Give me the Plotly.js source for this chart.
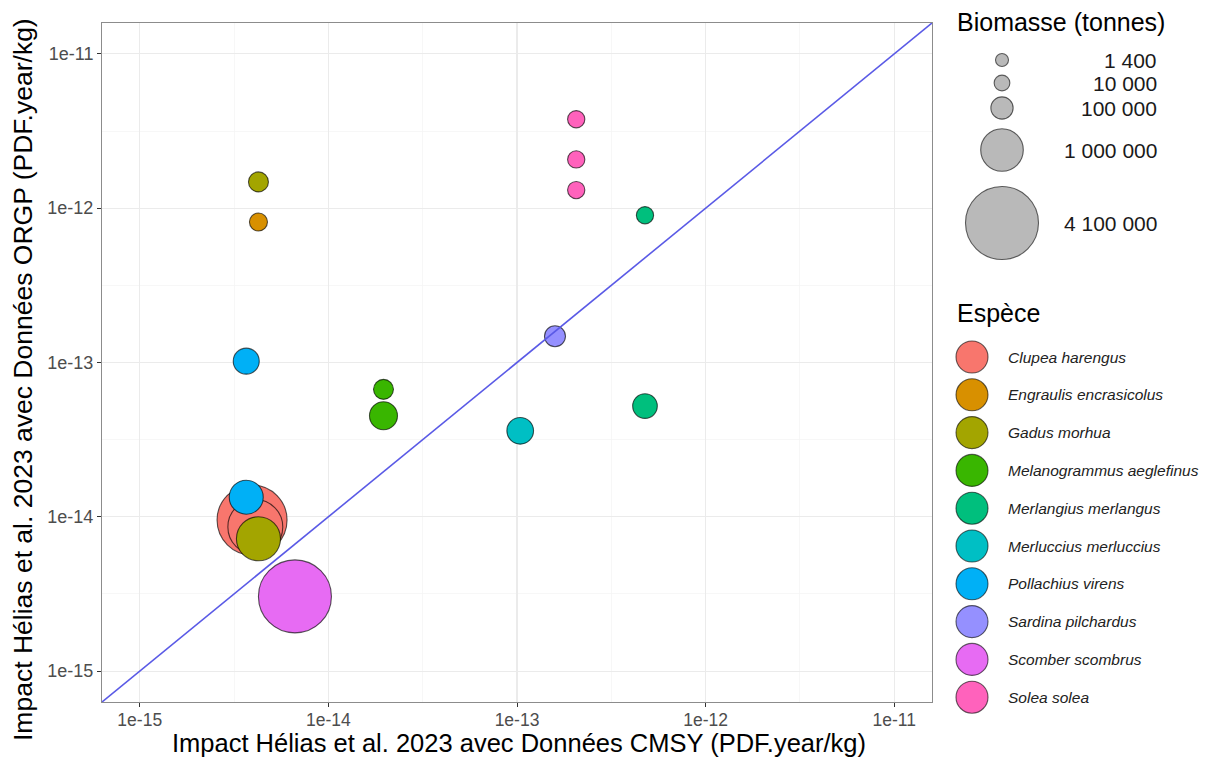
<!DOCTYPE html>
<html>
<head>
<meta charset="utf-8">
<script src="https://cdn.plot.ly/plotly-3.0.1.min.js"></script>
<style>html,body{margin:0;padding:0;background:#fff;}</style>
</head>
<body>
<div id="chart" style="width:1205px;height:758px;"></div>
<script>
// ---------------- data ----------------
const speciesNames = ['Clupea harengus','Engraulis encrasicolus','Gadus morhua','Melanogrammus aeglefinus','Merlangius merlangus','Merluccius merluccius','Pollachius virens','Sardina pilchardus','Scomber scombrus','Solea solea'];
const speciesColors = ['#F8766D','#D89000','#A3A500','#39B600','#00BF7D','#00BFC4','#00B0F6','#9590FF','#E76BF3','#FF62BC'];

const pointSpecies = ['Clupea harengus','Clupea harengus','Engraulis encrasicolus','Gadus morhua','Gadus morhua','Melanogrammus aeglefinus','Melanogrammus aeglefinus','Merlangius merlangus','Merlangius merlangus','Merluccius merluccius','Pollachius virens','Pollachius virens','Sardina pilchardus','Scomber scombrus','Solea solea','Solea solea','Solea solea'];
const impactCMSY = [3.94e-15,4.1e-15,4.26e-15,4.26e-15,4.26e-15,1.96e-14,1.96e-14,4.77e-13,4.77e-13,1.04e-13,3.67e-15,3.67e-15,1.59e-13,6.65e-15,2.06e-13,2.06e-13,2.06e-13];
const impactORGP = [9.53e-15,8.6e-15,8.13e-13,1.48e-12,7.21e-15,6.7e-14,4.52e-14,9.0e-13,5.22e-14,3.61e-14,1.02e-13,1.34e-14,1.48e-13,3.05e-15,3.77e-12,2.07e-12,1.31e-12];
const biomass = [3700000,2000000,30000,57000,1100000,57000,258000,22000,156000,215000,194000,503000,74000,4100000,22000,22000,22000];

const sizeBreaks = [1400,10000,100000,1000000,4100000];
const sizeLabels = ['1 400','10 000','100 000','1 000 000','4 100 000'];

const identityLine = [1e-16,1e-10];
const tickVals = [1e-15,1e-14,1e-13,1e-12,1e-11];
const tickText = ['1e-15','1e-14','1e-13','1e-12','1e-11'];
const minorVals = [Math.pow(10,-14.5),Math.pow(10,-13.5),Math.pow(10,-12.5),Math.pow(10,-11.5)];

const xTitle = 'Impact Hélias et al. 2023 avec Données CMSY (PDF.year/kg)';
const yTitle = 'Impact Hélias et al. 2023 avec Données ORGP (PDF.year/kg)';

// ---------------- scales ----------------
const bMin = 1400, bMax = 4100000, dMin = 13, dMax = 73;
function diam(v){ return dMin + (dMax-dMin)*Math.sqrt(Math.max(0,(v-bMin))/(bMax-bMin)); }
function colorOf(s){ return speciesColors[speciesNames.indexOf(s)]; }

const FONT = 'Liberation Sans, Arial, sans-serif';

// ---------------- traces ----------------
const traces = [];
traces.push({
  type:'scatter', mode:'markers', x:impactCMSY, y:impactORGP,
  xaxis:'x', yaxis:'y', showlegend:false, hoverinfo:'x+y+text',
  text: pointSpecies,
  marker:{
    size: biomass.map(diam), sizemode:'diameter',
    color: pointSpecies.map(colorOf),
    opacity:1,
    line:{color:'rgba(0,0,0,0.65)', width:1.1}
  }
});
traces.push({
  type:'scatter', mode:'lines', x:identityLine, y:identityLine,
  xaxis:'x', yaxis:'y', showlegend:false, hoverinfo:'skip',
  line:{color:'#5a5ae6', width:1.6}
});

const W = 1205, H = 758, ML = 102, MR = 0, MT = 23, MB = 56;
const plotW = W-ML-MR, plotH = H-MT-MB;
function px2paperX(px){ return (px-ML)/plotW; }
function px2paperY(py){ return (H-MB-py)/plotH; }

// legend (drawn on an auxiliary pixel-like axis)
const sizeKeyY = [60,83,108,150,223];
const sizeKeyX = 1002;
traces.push({
  type:'scatter', mode:'markers', xaxis:'x2', yaxis:'y2', showlegend:false, hoverinfo:'skip', cliponaxis:false,
  x: sizeBreaks.map(()=>sizeKeyX), y: sizeKeyY,
  marker:{size:sizeBreaks.map(diam), sizemode:'diameter', color:'#B9B9B9', opacity:1, line:{color:'rgba(0,0,0,0.6)', width:1.1}}
});
const spY0 = 357, spStep = 37.8, spX = 972;
const spY = speciesNames.map((s,i)=>spY0+i*spStep);
traces.push({
  type:'scatter', mode:'markers', xaxis:'x2', yaxis:'y2', showlegend:false, hoverinfo:'skip', cliponaxis:false,
  x: speciesNames.map(()=>spX), y: spY,
  marker:{size:32, color:speciesColors, opacity:1, line:{color:'rgba(0,0,0,0.6)', width:1.1}}
});

const annotations = [];
annotations.push({xref:'x2', yref:'paper', x:955, y:px2paperY(22), text:'Biomasse (tonnes)', showarrow:false, xanchor:'left', yanchor:'middle', font:{family:FONT, size:25, color:'#000'}});
sizeLabels.forEach((t,i)=>annotations.push({xref:'x2', yref:'y2', x:1159, y:sizeKeyY[i], text:t, showarrow:false, xanchor:'right', yanchor:'middle', font:{family:FONT, size:21, color:'#1a1a1a'}}));
annotations.push({xref:'x2', yref:'y2', x:955, y:313, text:'Espèce', showarrow:false, xanchor:'left', yanchor:'middle', font:{family:FONT, size:25, color:'#000'}});
speciesNames.forEach((s,i)=>annotations.push({xref:'x2', yref:'y2', x:1006, y:spY[i], text:'<i>'+s+'</i>', showarrow:false, xanchor:'left', yanchor:'middle', font:{family:FONT, size:15.5, color:'#222'}}));
// axis titles
annotations.push({xref:'paper', yref:'paper', x:px2paperX(519), y:px2paperY(758), text:xTitle, showarrow:false, xanchor:'center', yanchor:'bottom', borderpad:0, font:{family:FONT, size:25.5, color:'#000'}});
annotations.push({xref:'paper', yref:'paper', x:px2paperX(23), y:px2paperY(380), text:yTitle, textangle:-90, showarrow:false, xanchor:'center', yanchor:'middle', font:{family:FONT, size:26.5, color:'#000'}});

const layout = {
  width:W, height:H,
  margin:{l:ML, r:MR, t:MT, b:MB},
  paper_bgcolor:'#fff', plot_bgcolor:'#fff',
  font:{family:FONT},
  xaxis:{
    type:'log', range:[-15.2,-10.8], domain:[0,px2paperX(932)],
    tickvals:tickVals, ticktext:tickText, ticks:'outside', ticklen:4, tickcolor:'#333', tickwidth:1,
    ticklabelstandoff:-2,
    tickfont:{family:FONT, size:17.5, color:'#4d4d4d'},
    showgrid:true, gridcolor:'#EBEBEB', gridwidth:1.1,
    minor:{tickvals:minorVals, showgrid:true, gridcolor:'#F3F3F3', gridwidth:0.7, ticks:''},
    zeroline:false, showline:true, mirror:true, linecolor:'#8c8c8c', linewidth:1,
    automargin:false, anchor:'y'
  },
  yaxis:{
    type:'log', range:[-15.2,-10.8], domain:[0,1],
    tickvals:tickVals, ticktext:tickText, ticks:'outside', ticklen:4, tickcolor:'#333', tickwidth:1,
    tickfont:{family:FONT, size:18, color:'#4d4d4d'},
    showgrid:true, gridcolor:'#EBEBEB', gridwidth:1.1,
    minor:{tickvals:minorVals, showgrid:true, gridcolor:'#F3F3F3', gridwidth:0.7, ticks:''},
    zeroline:false, showline:true, mirror:true, linecolor:'#8c8c8c', linewidth:1,
    automargin:false, anchor:'x'
  },
  xaxis2:{domain:[px2paperX(940),1], range:[940,1205], visible:false, fixedrange:true, anchor:'y2'},
  yaxis2:{domain:[0,1], range:[H-MB, MT], visible:false, fixedrange:true, anchor:'x2'},
  annotations:annotations,
  showlegend:false
};

Plotly.newPlot('chart', traces, layout, {displayModeBar:false, staticPlot:true});
</script>
</body>
</html>
